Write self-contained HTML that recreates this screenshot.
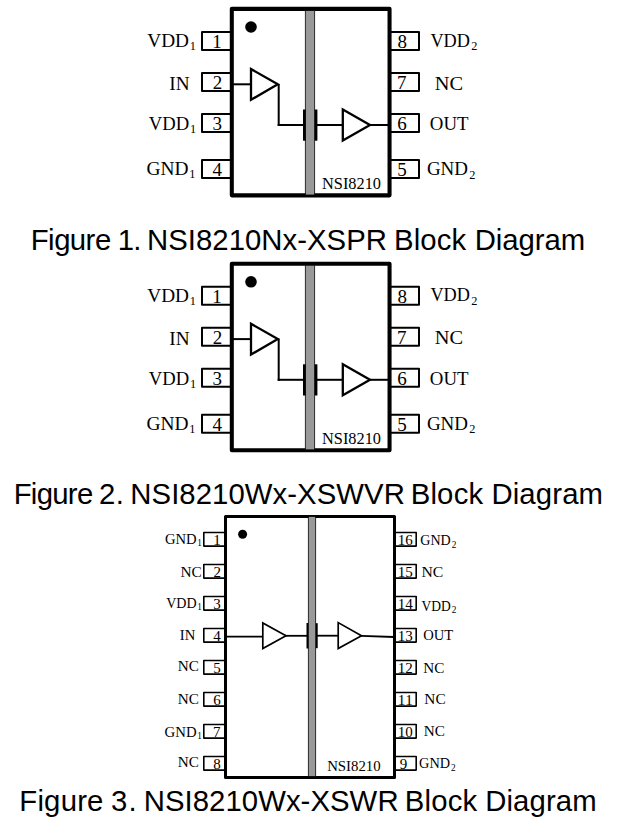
<!DOCTYPE html>
<html><head><meta charset="utf-8"><style>
html,body{margin:0;padding:0;background:#fff;}
svg{display:block;}
text{fill:#000;}
</style></head><body>
<svg width="623" height="830" viewBox="0 0 623 830">
<rect x="0" y="0" width="623" height="830" fill="#fff"/>
<rect x="202.00" y="32.00" width="29.00" height="18.00" fill="none" stroke="#000" stroke-width="2.00" stroke-linejoin="round"/>
<rect x="390.00" y="32.00" width="29.00" height="18.00" fill="none" stroke="#000" stroke-width="2.00" stroke-linejoin="round"/>
<rect x="202.00" y="73.00" width="29.00" height="18.00" fill="none" stroke="#000" stroke-width="2.00" stroke-linejoin="round"/>
<rect x="390.00" y="73.00" width="29.00" height="18.00" fill="none" stroke="#000" stroke-width="2.00" stroke-linejoin="round"/>
<rect x="202.00" y="114.00" width="29.00" height="18.00" fill="none" stroke="#000" stroke-width="2.00" stroke-linejoin="round"/>
<rect x="390.00" y="114.00" width="29.00" height="18.00" fill="none" stroke="#000" stroke-width="2.00" stroke-linejoin="round"/>
<rect x="202.00" y="160.00" width="29.00" height="18.00" fill="none" stroke="#000" stroke-width="2.00" stroke-linejoin="round"/>
<rect x="390.00" y="160.00" width="29.00" height="18.00" fill="none" stroke="#000" stroke-width="2.00" stroke-linejoin="round"/>
<rect x="231.80" y="8.85" width="157.75" height="186.50" fill="none" stroke="#000" stroke-width="4.05" stroke-linejoin="round"/>
<circle cx="251.00" cy="27.00" r="5.80" fill="#000"/>
<rect x="305.40" y="10.50" width="9.20" height="184.50" fill="#999999" stroke="#000" stroke-width="0.80" stroke-linejoin="round"/>
<line x1="233.00" y1="84.30" x2="251.00" y2="84.30" stroke="#000" stroke-width="2.00"/>
<path d="M251.00 69.00 L251.00 99.80 L277.80 84.20 Z" fill="#fff" stroke="#000" stroke-width="2.30" stroke-linejoin="miter"/>
<line x1="278.70" y1="84.00" x2="278.70" y2="126.00" stroke="#000" stroke-width="2.00"/>
<line x1="277.70" y1="125.00" x2="304.00" y2="125.00" stroke="#000" stroke-width="2.00"/>
<rect x="303.00" y="109.50" width="2.80" height="31.20" fill="#000" stroke="none" stroke-width="0.00" stroke-linejoin="round"/>
<rect x="314.60" y="109.50" width="2.80" height="31.20" fill="#000" stroke="none" stroke-width="0.00" stroke-linejoin="round"/>
<line x1="317.00" y1="125.00" x2="343.00" y2="125.00" stroke="#000" stroke-width="2.00"/>
<path d="M342.80 109.50 L342.80 140.50 L370.00 125.00 Z" fill="#fff" stroke="#000" stroke-width="2.30" stroke-linejoin="miter"/>
<line x1="370.00" y1="125.00" x2="388.00" y2="125.00" stroke="#000" stroke-width="2.00"/>
<text x="212.29" y="48.00" font-family="Liberation Serif" font-size="19.00">1</text>
<text x="397.45" y="48.00" font-family="Liberation Serif" font-size="19.00">8</text>
<text x="212.66" y="89.00" font-family="Liberation Serif" font-size="19.00">2</text>
<text x="397.10" y="89.00" font-family="Liberation Serif" font-size="19.00">7</text>
<text x="212.47" y="130.00" font-family="Liberation Serif" font-size="19.00">3</text>
<text x="397.32" y="130.00" font-family="Liberation Serif" font-size="19.00">6</text>
<text x="212.51" y="176.00" font-family="Liberation Serif" font-size="19.00">4</text>
<text x="397.27" y="176.00" font-family="Liberation Serif" font-size="19.00">5</text>
<text x="0" y="0" transform="translate(147.28 46.70) scale(1.013 1.000)" font-family="Liberation Serif" font-size="19.00">VDD</text>
<text x="189.72" y="49.90" font-family="Liberation Serif" font-size="12.30">1</text>
<text x="0" y="0" transform="translate(169.30 89.90) scale(1.014 1.000)" font-family="Liberation Serif" font-size="19.00">IN</text>
<text x="0" y="0" transform="translate(148.79 129.80) scale(0.980 1.000)" font-family="Liberation Serif" font-size="19.00">VDD</text>
<text x="189.92" y="133.00" font-family="Liberation Serif" font-size="12.30">1</text>
<text x="0" y="0" transform="translate(146.40 174.90) scale(1.022 1.000)" font-family="Liberation Serif" font-size="19.00">GND</text>
<text x="189.22" y="178.10" font-family="Liberation Serif" font-size="12.30">1</text>
<text x="0" y="0" transform="translate(430.40 46.60) scale(0.960 1.000)" font-family="Liberation Serif" font-size="19.00">VDD</text>
<text x="471.26" y="49.80" font-family="Liberation Serif" font-size="12.30">2</text>
<text x="0" y="0" transform="translate(434.81 89.60) scale(1.073 1.000)" font-family="Liberation Serif" font-size="19.00">NC</text>
<text x="0" y="0" transform="translate(429.83 130.10) scale(0.991 1.000)" font-family="Liberation Serif" font-size="19.00">OUT</text>
<text x="0" y="0" transform="translate(426.92 175.40) scale(0.999 1.000)" font-family="Liberation Serif" font-size="19.00">GND</text>
<text x="469.36" y="178.60" font-family="Liberation Serif" font-size="12.30">2</text>
<text x="0" y="0" transform="translate(322.03 189.00) scale(1.002 1.000)" font-family="Liberation Serif" font-size="16.30">NSI8210</text>
<rect x="202.00" y="286.80" width="29.00" height="18.00" fill="none" stroke="#000" stroke-width="2.00" stroke-linejoin="round"/>
<rect x="390.00" y="286.80" width="29.00" height="18.00" fill="none" stroke="#000" stroke-width="2.00" stroke-linejoin="round"/>
<rect x="202.00" y="327.80" width="29.00" height="18.00" fill="none" stroke="#000" stroke-width="2.00" stroke-linejoin="round"/>
<rect x="390.00" y="327.80" width="29.00" height="18.00" fill="none" stroke="#000" stroke-width="2.00" stroke-linejoin="round"/>
<rect x="202.00" y="368.80" width="29.00" height="18.00" fill="none" stroke="#000" stroke-width="2.00" stroke-linejoin="round"/>
<rect x="390.00" y="368.80" width="29.00" height="18.00" fill="none" stroke="#000" stroke-width="2.00" stroke-linejoin="round"/>
<rect x="202.00" y="414.80" width="29.00" height="18.00" fill="none" stroke="#000" stroke-width="2.00" stroke-linejoin="round"/>
<rect x="390.00" y="414.80" width="29.00" height="18.00" fill="none" stroke="#000" stroke-width="2.00" stroke-linejoin="round"/>
<rect x="231.80" y="263.65" width="157.75" height="186.50" fill="none" stroke="#000" stroke-width="4.05" stroke-linejoin="round"/>
<circle cx="251.00" cy="281.80" r="5.80" fill="#000"/>
<rect x="305.40" y="265.30" width="9.20" height="184.50" fill="#999999" stroke="#000" stroke-width="0.80" stroke-linejoin="round"/>
<line x1="233.00" y1="339.10" x2="251.00" y2="339.10" stroke="#000" stroke-width="2.00"/>
<path d="M251.00 323.80 L251.00 354.60 L277.80 339.00 Z" fill="#fff" stroke="#000" stroke-width="2.30" stroke-linejoin="miter"/>
<line x1="278.70" y1="338.80" x2="278.70" y2="380.80" stroke="#000" stroke-width="2.00"/>
<line x1="277.70" y1="379.80" x2="304.00" y2="379.80" stroke="#000" stroke-width="2.00"/>
<rect x="303.00" y="364.30" width="2.80" height="31.20" fill="#000" stroke="none" stroke-width="0.00" stroke-linejoin="round"/>
<rect x="314.60" y="364.30" width="2.80" height="31.20" fill="#000" stroke="none" stroke-width="0.00" stroke-linejoin="round"/>
<line x1="317.00" y1="379.80" x2="343.00" y2="379.80" stroke="#000" stroke-width="2.00"/>
<path d="M342.80 364.30 L342.80 395.30 L370.00 379.80 Z" fill="#fff" stroke="#000" stroke-width="2.30" stroke-linejoin="miter"/>
<line x1="370.00" y1="379.80" x2="388.00" y2="379.80" stroke="#000" stroke-width="2.00"/>
<text x="212.29" y="302.80" font-family="Liberation Serif" font-size="19.00">1</text>
<text x="397.45" y="302.80" font-family="Liberation Serif" font-size="19.00">8</text>
<text x="212.66" y="343.80" font-family="Liberation Serif" font-size="19.00">2</text>
<text x="397.10" y="343.80" font-family="Liberation Serif" font-size="19.00">7</text>
<text x="212.47" y="384.80" font-family="Liberation Serif" font-size="19.00">3</text>
<text x="397.32" y="384.80" font-family="Liberation Serif" font-size="19.00">6</text>
<text x="212.51" y="430.80" font-family="Liberation Serif" font-size="19.00">4</text>
<text x="397.27" y="430.80" font-family="Liberation Serif" font-size="19.00">5</text>
<text x="0" y="0" transform="translate(147.28 301.50) scale(1.013 1.000)" font-family="Liberation Serif" font-size="19.00">VDD</text>
<text x="189.72" y="304.70" font-family="Liberation Serif" font-size="12.30">1</text>
<text x="0" y="0" transform="translate(169.30 344.70) scale(1.014 1.000)" font-family="Liberation Serif" font-size="19.00">IN</text>
<text x="0" y="0" transform="translate(148.79 384.60) scale(0.980 1.000)" font-family="Liberation Serif" font-size="19.00">VDD</text>
<text x="189.92" y="387.80" font-family="Liberation Serif" font-size="12.30">1</text>
<text x="0" y="0" transform="translate(146.40 429.70) scale(1.022 1.000)" font-family="Liberation Serif" font-size="19.00">GND</text>
<text x="189.22" y="432.90" font-family="Liberation Serif" font-size="12.30">1</text>
<text x="0" y="0" transform="translate(430.40 301.40) scale(0.960 1.000)" font-family="Liberation Serif" font-size="19.00">VDD</text>
<text x="471.26" y="304.60" font-family="Liberation Serif" font-size="12.30">2</text>
<text x="0" y="0" transform="translate(434.81 344.40) scale(1.073 1.000)" font-family="Liberation Serif" font-size="19.00">NC</text>
<text x="0" y="0" transform="translate(429.83 384.90) scale(0.991 1.000)" font-family="Liberation Serif" font-size="19.00">OUT</text>
<text x="0" y="0" transform="translate(426.92 430.20) scale(0.999 1.000)" font-family="Liberation Serif" font-size="19.00">GND</text>
<text x="469.36" y="433.40" font-family="Liberation Serif" font-size="12.30">2</text>
<text x="0" y="0" transform="translate(322.03 443.80) scale(1.002 1.000)" font-family="Liberation Serif" font-size="16.30">NSI8210</text>
<rect x="203.80" y="532.50" width="21.00" height="13.60" fill="none" stroke="#000" stroke-width="1.60" stroke-linejoin="round"/>
<rect x="395.20" y="532.50" width="21.00" height="13.60" fill="none" stroke="#000" stroke-width="1.60" stroke-linejoin="round"/>
<rect x="203.80" y="564.50" width="21.00" height="13.60" fill="none" stroke="#000" stroke-width="1.60" stroke-linejoin="round"/>
<rect x="395.20" y="564.50" width="21.00" height="13.60" fill="none" stroke="#000" stroke-width="1.60" stroke-linejoin="round"/>
<rect x="203.80" y="596.50" width="21.00" height="13.60" fill="none" stroke="#000" stroke-width="1.60" stroke-linejoin="round"/>
<rect x="395.20" y="596.50" width="21.00" height="13.60" fill="none" stroke="#000" stroke-width="1.60" stroke-linejoin="round"/>
<rect x="203.80" y="628.50" width="21.00" height="13.60" fill="none" stroke="#000" stroke-width="1.60" stroke-linejoin="round"/>
<rect x="395.20" y="628.50" width="21.00" height="13.60" fill="none" stroke="#000" stroke-width="1.60" stroke-linejoin="round"/>
<rect x="203.80" y="660.50" width="21.00" height="13.60" fill="none" stroke="#000" stroke-width="1.60" stroke-linejoin="round"/>
<rect x="395.20" y="660.50" width="21.00" height="13.60" fill="none" stroke="#000" stroke-width="1.60" stroke-linejoin="round"/>
<rect x="203.80" y="692.50" width="21.00" height="13.60" fill="none" stroke="#000" stroke-width="1.60" stroke-linejoin="round"/>
<rect x="395.20" y="692.50" width="21.00" height="13.60" fill="none" stroke="#000" stroke-width="1.60" stroke-linejoin="round"/>
<rect x="203.80" y="724.50" width="21.00" height="13.60" fill="none" stroke="#000" stroke-width="1.60" stroke-linejoin="round"/>
<rect x="395.20" y="724.50" width="21.00" height="13.60" fill="none" stroke="#000" stroke-width="1.60" stroke-linejoin="round"/>
<rect x="203.80" y="756.50" width="21.00" height="13.60" fill="none" stroke="#000" stroke-width="1.60" stroke-linejoin="round"/>
<rect x="395.20" y="756.50" width="21.00" height="13.60" fill="none" stroke="#000" stroke-width="1.60" stroke-linejoin="round"/>
<rect x="225.50" y="516.50" width="169.00" height="261.00" fill="none" stroke="#000" stroke-width="3.00" stroke-linejoin="round"/>
<circle cx="242.60" cy="534.30" r="4.50" fill="#000"/>
<rect x="308.40" y="516.50" width="7.20" height="260.00" fill="#999999" stroke="#000" stroke-width="0.80" stroke-linejoin="round"/>
<line x1="226.00" y1="636.70" x2="263.00" y2="636.70" stroke="#000" stroke-width="1.80"/>
<path d="M262.80 623.00 L262.80 648.60 L286.00 635.70 Z" fill="#fff" stroke="#000" stroke-width="1.70" stroke-linejoin="miter"/>
<line x1="285.00" y1="635.80" x2="307.00" y2="635.80" stroke="#000" stroke-width="1.80"/>
<rect x="306.50" y="623.00" width="1.90" height="25.50" fill="#000" stroke="none" stroke-width="0.00" stroke-linejoin="round"/>
<rect x="315.80" y="623.20" width="1.90" height="25.00" fill="#000" stroke="none" stroke-width="0.00" stroke-linejoin="round"/>
<line x1="317.00" y1="635.70" x2="339.00" y2="635.70" stroke="#000" stroke-width="1.80"/>
<path d="M338.20 622.60 L338.20 648.50 L361.50 635.70 Z" fill="#fff" stroke="#000" stroke-width="1.70" stroke-linejoin="miter"/>
<path d="M361 635.8 L394 637" stroke="#000" stroke-width="1.8" fill="none"/>
<text x="213.14" y="544.50" font-family="Liberation Serif" font-size="15.00">1</text>
<text x="397.78 405.28" y="544.50" font-family="Liberation Serif" font-size="15.00">16</text>
<text x="213.43" y="576.50" font-family="Liberation Serif" font-size="15.00">2</text>
<text x="397.78 405.28" y="576.50" font-family="Liberation Serif" font-size="15.00">15</text>
<text x="213.28" y="608.50" font-family="Liberation Serif" font-size="15.00">3</text>
<text x="397.78 405.28" y="608.50" font-family="Liberation Serif" font-size="15.00">14</text>
<text x="213.32" y="640.50" font-family="Liberation Serif" font-size="15.00">4</text>
<text x="397.78 405.28" y="640.50" font-family="Liberation Serif" font-size="15.00">13</text>
<text x="213.21" y="672.50" font-family="Liberation Serif" font-size="15.00">5</text>
<text x="397.78 405.28" y="672.50" font-family="Liberation Serif" font-size="15.00">12</text>
<text x="213.25" y="704.50" font-family="Liberation Serif" font-size="15.00">6</text>
<text x="397.78 405.28" y="704.50" font-family="Liberation Serif" font-size="15.00">11</text>
<text x="213.07" y="736.50" font-family="Liberation Serif" font-size="15.00">7</text>
<text x="397.78 405.28" y="736.50" font-family="Liberation Serif" font-size="15.00">10</text>
<text x="213.35" y="768.50" font-family="Liberation Serif" font-size="15.00">8</text>
<text x="399.72" y="768.50" font-family="Liberation Serif" font-size="15.00">9</text>
<text x="0" y="0" transform="translate(164.90 543.80) scale(1.023 1.000)" font-family="Liberation Serif" font-size="14.30">GND</text>
<text x="197.18" y="546.10" font-family="Liberation Serif" font-size="9.30">1</text>
<text x="0" y="0" transform="translate(180.46 577.00) scale(1.072 1.000)" font-family="Liberation Serif" font-size="14.30">NC</text>
<text x="0" y="0" transform="translate(166.14 608.10) scale(0.982 1.000)" font-family="Liberation Serif" font-size="14.30">VDD</text>
<text x="197.18" y="610.40" font-family="Liberation Serif" font-size="9.30">1</text>
<text x="0" y="0" transform="translate(179.77 639.50) scale(1.025 1.000)" font-family="Liberation Serif" font-size="14.30">IN</text>
<text x="0" y="0" transform="translate(177.76 671.20) scale(1.066 1.000)" font-family="Liberation Serif" font-size="14.30">NC</text>
<text x="0" y="0" transform="translate(177.76 704.10) scale(1.066 1.000)" font-family="Liberation Serif" font-size="14.30">NC</text>
<text x="0" y="0" transform="translate(164.59 737.00) scale(1.033 1.000)" font-family="Liberation Serif" font-size="14.30">GND</text>
<text x="197.18" y="739.30" font-family="Liberation Serif" font-size="9.30">1</text>
<text x="0" y="0" transform="translate(177.76 767.20) scale(1.066 1.000)" font-family="Liberation Serif" font-size="14.30">NC</text>
<text x="0" y="0" transform="translate(420.32 545.30) scale(0.982 1.000)" font-family="Liberation Serif" font-size="14.30">GND</text>
<text x="451.79" y="547.60" font-family="Liberation Serif" font-size="9.30">2</text>
<text x="0" y="0" transform="translate(421.45 576.50) scale(1.098 1.000)" font-family="Liberation Serif" font-size="14.30">NC</text>
<text x="0" y="0" transform="translate(421.45 610.50) scale(0.946 1.000)" font-family="Liberation Serif" font-size="14.30">VDD</text>
<text x="451.79" y="612.80" font-family="Liberation Serif" font-size="9.30">2</text>
<text x="0" y="0" transform="translate(423.30 639.80) scale(1.019 1.000)" font-family="Liberation Serif" font-size="14.30">OUT</text>
<text x="0" y="0" transform="translate(423.26 672.70) scale(1.061 1.000)" font-family="Liberation Serif" font-size="14.30">NC</text>
<text x="0" y="0" transform="translate(424.36 704.00) scale(1.072 1.000)" font-family="Liberation Serif" font-size="14.30">NC</text>
<text x="0" y="0" transform="translate(423.66 735.80) scale(1.066 1.000)" font-family="Liberation Serif" font-size="14.30">NC</text>
<text x="0" y="0" transform="translate(419.11 768.20) scale(0.999 1.000)" font-family="Liberation Serif" font-size="14.30">GND</text>
<text x="451.09" y="770.50" font-family="Liberation Serif" font-size="9.30">2</text>
<text x="0" y="0" transform="translate(327.17 771.00) scale(1.022 1.000)" font-family="Liberation Serif" font-size="14.50">NSI8210</text>
<text x="30.69 47.91 54.17 69.84 85.51 94.89" y="0" transform="translate(0 249.80) scale(1 1.025)" font-family="Liberation Sans" font-size="29.33">Figure</text>
<text x="117.67 133.33" y="0" transform="translate(0 249.80) scale(1 1.025)" font-family="Liberation Sans" font-size="29.33">1.</text>
<text x="147.09 168.30 187.88 196.04 212.37 228.70 245.03 261.36 282.57 297.25 307.03 326.61 346.19 365.78" y="0" transform="translate(0 249.80) scale(1 1.025)" font-family="Liberation Sans" font-size="29.33">NSI8210Nx-XSPR</text>
<text x="393.89 413.64 420.22 436.69 451.49" y="0" transform="translate(0 249.80) scale(1 1.025)" font-family="Liberation Sans" font-size="29.33">Block</text>
<text x="474.79 495.85 502.33 518.55 534.77 544.48 560.70" y="0" transform="translate(0 249.80) scale(1 1.025)" font-family="Liberation Sans" font-size="29.33">Diagram</text>
<text x="13.69 30.69 36.87 52.35 67.82 77.09" y="0" transform="translate(0 503.80) scale(1 1.025)" font-family="Liberation Sans" font-size="29.33">Figure</text>
<text x="98.92 115.73" y="0" transform="translate(0 503.80) scale(1 1.025)" font-family="Liberation Sans" font-size="29.33">2.</text>
<text x="130.29 151.54 171.16 179.33 195.69 212.06 228.42 244.78 272.54 287.25 297.05 316.67 336.29 364.06 383.68" y="0" transform="translate(0 503.80) scale(1 1.025)" font-family="Liberation Sans" font-size="29.33">NSI8210Wx-XSWVR</text>
<text x="410.69 430.51 437.11 453.64 468.49" y="0" transform="translate(0 503.80) scale(1 1.025)" font-family="Liberation Sans" font-size="29.33">Block</text>
<text x="491.39 512.77 519.35 535.81 552.28 562.14 578.60" y="0" transform="translate(0 503.80) scale(1 1.025)" font-family="Liberation Sans" font-size="29.33">Diagram</text>
<text x="19.29 37.47 44.08 60.63 77.18 87.09" y="0" transform="translate(0 810.80) scale(1 1.025)" font-family="Liberation Sans" font-size="29.33">Figure</text>
<text x="110.98 128.43" y="0" transform="translate(0 810.80) scale(1 1.025)" font-family="Liberation Sans" font-size="29.33">3.</text>
<text x="143.69 164.93 184.55 192.72 209.07 225.43 241.78 258.14 285.90 300.60 310.39 330.01 349.62 377.38" y="0" transform="translate(0 810.80) scale(1 1.025)" font-family="Liberation Sans" font-size="29.33">NSI8210Wx-XSWR</text>
<text x="404.79 424.58 431.17 447.66 462.49" y="0" transform="translate(0 810.80) scale(1 1.025)" font-family="Liberation Sans" font-size="29.33">Block</text>
<text x="485.19 506.55 513.12 529.56 546.01 555.86 572.30" y="0" transform="translate(0 810.80) scale(1 1.025)" font-family="Liberation Sans" font-size="29.33">Diagram</text>
</svg>
</body></html>
